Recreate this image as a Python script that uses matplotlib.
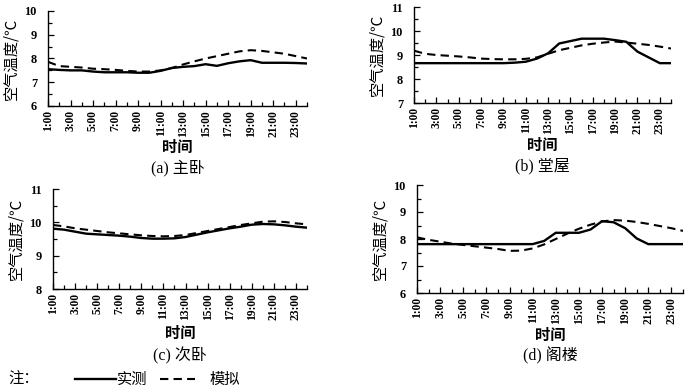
import matplotlib
matplotlib.use("Agg")
import matplotlib.pyplot as plt
from matplotlib.ticker import MultipleLocator

plt.rcParams['font.family'] = ['Liberation Serif', 'Noto Sans CJK SC', 'DejaVu Sans']

hours = list(range(1, 25))
tick_labels = [f"{h}:00" for h in range(1, 25, 2)]

# (a) 主卧
a_meas = [7.55, 7.52, 7.50, 7.50, 7.45, 7.42, 7.42, 7.42, 7.40, 7.40, 7.48, 7.60,
          7.65, 7.68, 7.76, 7.69, 7.80, 7.88, 7.93, 7.82, 7.82, 7.82, 7.81, 7.79]
a_sim = [7.86, 7.68, 7.65, 7.62, 7.57, 7.55, 7.52, 7.48, 7.45, 7.45, 7.50, 7.60,
         7.75, 7.88, 8.00, 8.10, 8.20, 8.30, 8.35, 8.32, 8.26, 8.20, 8.10, 8.00]
# (b) 堂屋
b_meas = [8.66, 8.66, 8.66, 8.66, 8.66, 8.66, 8.66, 8.66, 8.66, 8.68, 8.72, 8.85,
          9.07, 9.48, 9.58, 9.68, 9.68, 9.68, 9.62, 9.55, 9.14, 8.90, 8.66, 8.66]
b_sim = [9.18, 9.05, 9.00, 8.97, 8.94, 8.90, 8.85, 8.83, 8.82, 8.82, 8.84, 8.90,
         9.05, 9.20, 9.30, 9.40, 9.47, 9.52, 9.56, 9.52, 9.47, 9.42, 9.35, 9.27]
# (c) 次卧
c_meas = [9.81, 9.78, 9.72, 9.66, 9.64, 9.62, 9.60, 9.57, 9.53, 9.51, 9.51, 9.52,
          9.56, 9.63, 9.70, 9.76, 9.82, 9.87, 9.93, 9.95, 9.94, 9.91, 9.87, 9.84]
c_sim = [9.92, 9.88, 9.82, 9.78, 9.74, 9.70, 9.67, 9.64, 9.61, 9.59, 9.58, 9.59,
         9.62, 9.68, 9.74, 9.80, 9.86, 9.92, 9.97, 10.02, 10.03, 10.01, 9.97, 9.94]
# (d) 阁楼
d_meas = [7.81, 7.81, 7.81, 7.81, 7.81, 7.81, 7.81, 7.81, 7.81, 7.81, 7.81, 7.93,
          8.23, 8.23, 8.23, 8.35, 8.66, 8.62, 8.40, 8.02, 7.81, 7.81, 7.81, 7.81]
d_sim = [8.06, 7.97, 7.90, 7.83, 7.78, 7.73, 7.68, 7.63, 7.56, 7.57, 7.65, 7.80,
         8.00, 8.20, 8.38, 8.53, 8.65, 8.70, 8.68, 8.63, 8.56, 8.48, 8.40, 8.30]

panels = [
    ("(a) 主卧", a_meas, a_sim, (6, 10), (48, 307, 11, 106), 41, 62),
    ("(b) 堂屋", b_meas, b_sim, (7, 11), (414, 671, 7, 103), 42, 63),
    ("(c) 次卧", c_meas, c_sim, (8, 11), (53, 307, 189, 289), 44, 67),
    ("(d) 阁楼", d_meas, d_sim, (6, 10), (417, 683, 185, 293), 42, 63),
]

W, H = 700, 390
fig = plt.figure(figsize=(7, 3.9), dpi=100)

for title, meas, sim, ylim, (l, r, t, b), dx_lab, dtitle in panels:
    ax = fig.add_axes([l / W, 1 - b / H, (r - l) / W, (b - t) / H])
    ax.plot(hours, meas, color='black', lw=1.7, solid_joinstyle='miter')
    ax.plot(hours, sim, color='black', lw=1.5, ls=(0, (4, 2.5)))
    ax.set_xlim(1, 24)
    ax.set_ylim(*ylim)
    ax.set_xticks(list(range(1, 25, 2)))
    ax.set_xticklabels(tick_labels, rotation=90, fontsize=8.3, fontweight='bold')
    ax.xaxis.set_minor_locator(MultipleLocator(1))
    ax.yaxis.set_major_locator(MultipleLocator(1))
    ax.yaxis.set_minor_locator(MultipleLocator(0.5))
    ax.tick_params(axis='both', which='both', direction='in', width=0.9)
    ax.tick_params(axis='both', which='major', length=4, pad=3)
    ax.tick_params(axis='both', which='minor', length=3)
    ax.tick_params(axis='y', labelsize=8.8, pad=8)
    for lab in ax.get_yticklabels():
        lab.set_fontweight('bold')
    for s in ('top', 'right'):
        ax.spines[s].set_visible(False)
    for s in ('left', 'bottom'):
        ax.spines[s].set_linewidth(1.0)
    ax.set_ylabel("空气温度/℃", fontsize=11, labelpad=4,
                  family=['Noto Sans CJK SC', 'DejaVu Sans'])
    cx = (l + r) / 2 / W
    fig.text(cx, 1 - (b + dx_lab) / H, "时间", ha='center', va='center', fontsize=11,
             family=['Noto Sans CJK SC'], fontweight='bold')
    fig.text(cx, 1 - (b + dtitle) / H, title, ha='center', va='center', fontsize=11.5,
             family=['Liberation Serif', 'Noto Sans CJK SC'])

# legend note
fig.text(8 / W, 1 - 379 / H, "注：", ha='left', va='center', fontsize=11,
         family=['Noto Sans CJK SC'])
lx = fig.add_axes([0, 0, 1, 1], facecolor='none')
lx.set_xlim(0, W)
lx.set_ylim(H, 0)
lx.axis('off')
lx.plot([75, 116], [379, 379], color='black', lw=1.7)
lx.text(117, 379, "实测", ha='left', va='center', fontsize=11, family=['Noto Sans CJK SC'])
lx.plot([160, 195], [379, 379], color='black', lw=1.5, ls=(0, (4, 2.5)))
lx.text(210, 379, "模拟", ha='left', va='center', fontsize=11, family=['Noto Sans CJK SC'])

fig.savefig("out.png", dpi=100)
